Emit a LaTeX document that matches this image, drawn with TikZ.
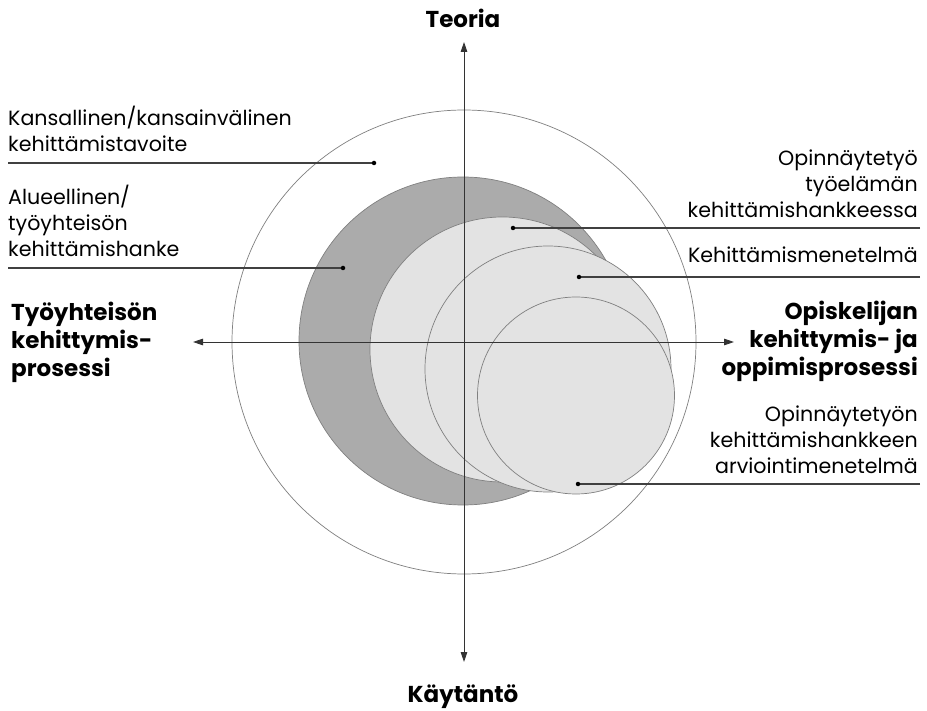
\documentclass[tikz,border=0pt]{standalone}
\usepackage{fontspec}
\setmainfont{Poppins}
\usetikzlibrary{arrows.meta}
\begin{document}
\begin{tikzpicture}[x=1pt,y=-1pt,
  ring/.style={draw=black!50, line width=0.7pt},
  darkdisc/.style={ring, fill=black!33},
  lightdisc/.style={ring, fill=black!11},
  axisline/.style={draw=black!80, line width=0.8pt,
    {Triangle[length=10pt,width=6.5pt]}-{Triangle[length=10pt,width=6.5pt]}},
  lead/.style={draw=black!75, line width=1.1pt},
  pin/.style={circle, fill=black, inner sep=0pt, minimum size=4.5pt},
  lbl/.style={font=\fontsize{20.6}{26}\selectfont, inner sep=0pt},
  head/.style={font=\bfseries\fontsize{23}{28}\selectfont, inner sep=0pt}]
\useasboundingbox (0,0) rectangle (927,711);
\fill[white] (0,0) rectangle (927,711);

% nested discs
\draw[ring, fill=white] (464,342) circle[radius=232];
\draw[darkdisc] (463,341) circle[radius=164];
\draw[lightdisc] (502.5,349.5) circle[radius=132.5];
\draw[lightdisc] (548,369) circle[radius=123];
\draw[lightdisc] (576,395.5) circle[radius=98.5];

% axis end points
\coordinate (top) at (464,42);
\coordinate (bottom) at (464,662);
\coordinate (left) at (193,342);
\coordinate (right) at (734,342);
\draw[axisline] (bottom) -- (top);
\draw[axisline] (left) -- (right);

% axis titles (base anchor = baseline of the last line)
\node[head, anchor=base] (teoria) at (463,28) {Teoria};
\node[head, anchor=base] (kaytanto) at (463,702) {Käytäntö};
\node[head, anchor=base west, align=left] (tyoyhteiso) at (11,377)
  {Työyhteisön\\kehittymis-\\prosessi};
\node[head, anchor=base east, align=right] (opiskelija) at (918,376)
  {Opiskelijan\\kehittymis- ja\\oppimisprosessi};

% leader lines with pins
\coordinate (p1) at (374,163);
\coordinate (e1) at (8,163);
\coordinate (p2) at (343,268);
\coordinate (e2) at (8,268);
\coordinate (p3) at (513,228);
\coordinate (e3) at (920,228);
\coordinate (p4) at (579,277);
\coordinate (e4) at (920,277);
\coordinate (p5) at (578,484);
\coordinate (e5) at (920,484);
\foreach \p/\e in {p1/e1,p2/e2,p3/e3,p4/e4,p5/e5}{
  \draw[lead] (\e) -- (\p);
  \node[pin] at (\p) {};
}

\node[lbl, anchor=base west, align=left] (kansallinen) at (8,152)
  {Kansallinen/kansainvälinen\\kehittämistavoite};
\node[lbl, anchor=base west, align=left] (alueellinen) at (8,257)
  {Alueellinen/\\työyhteisön\\kehittämishanke};
\node[lbl, anchor=base east, align=right] (opinnaytetyo) at (918,218)
  {Opinnäytetyö\\työelämän\\kehittämishankkeessa};
\node[lbl, anchor=base east] (menetelma) at (918,263) {Kehittämismenetelmä};
\node[lbl, anchor=base east, align=right] (arviointi) at (918,473)
  {Opinnäytetyön\\kehittämishankkeen\\arviointimenetelmä};
\end{tikzpicture}
\end{document}
